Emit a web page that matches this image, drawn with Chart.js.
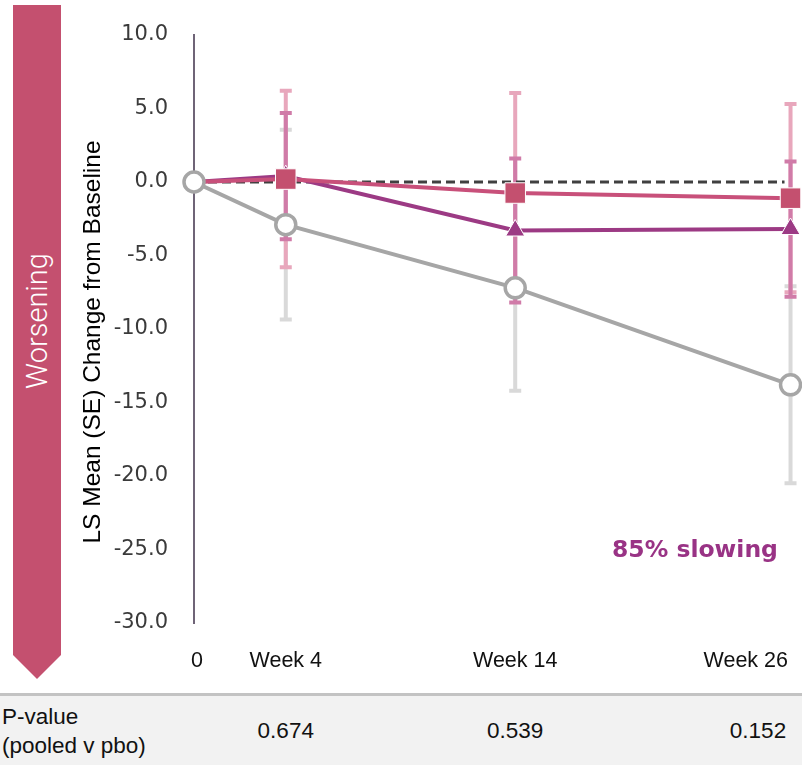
<!DOCTYPE html>
<html>
<head>
<meta charset="utf-8">
<script src="https://cdn.jsdelivr.net/npm/chart.js@4.4.0/dist/chart.umd.min.js"></script>
<style>
  body { margin: 0; background: #fff; }
  .wrap { position: relative; width: 802px; height: 765px; overflow: hidden; font-family: "Liberation Sans", Arial, sans-serif; }
  #chart { position: absolute; left: 0; top: 0; }
  .worse {
    position: absolute; left: 13px; top: 5px; width: 48px; height: 674px;
    background: #c4506f;
    clip-path: polygon(0 0, 100% 0, 100% 650px, 50% 100%, 0 650px);
  }
  .worse span {
    position: absolute; left: 24px; top: 316px;
    transform: translate(-50%, -50%) rotate(-90deg);
    color: #fff; font-family: Roboto, sans-serif; font-weight: 300; font-size: 29px; white-space: nowrap;
  }
  .slowing {
    position: absolute; left: 612px; top: 535px;
    color: #993385; font-family: "DejaVu Sans", sans-serif; font-weight: bold; font-size: 23.5px; white-space: nowrap;
  }
  .ptable {
    position: absolute; left: 0; top: 693px; width: 802px; height: 72px;
    border-top: 3px solid #c3c3c3; background: #f2f2f2;
    font-size: 22.5px; color: #111;
  }
  .ptable div { position: absolute; white-space: nowrap; }
</style>
</head>
<body>
<div class="wrap">
  <canvas id="chart" width="802" height="690"></canvas>
  <div class="worse"><span>Worsening</span></div>
  <div class="slowing">85% slowing</div>
  <div class="ptable" id="ptable"></div>
</div>
<script>
// weeks on the x axis
const weeks = [0, 4, 14, 26];
const weekLabels = ['0', 'Week 4', 'Week 14', 'Week 26'];

// LS mean change from baseline and SE
const placeboMean = [0, -2.9, -7.2, -13.8];
const placeboSE = [0, 6.45, 7.0, 6.7];
const doseAMean = [0, 0.2, -0.75, -1.1];
const doseASE = [0, 6.0, 6.8, 6.4];
const doseBMean = [0, 0.4, -3.3, -3.2];
const doseBSE = [0, 4.3, 4.9, 4.6];

const yTicks = [10, 5, 0, -5, -10, -15, -20, -25, -30];
const yTitle = 'LS Mean (SE) Change from Baseline';

// p-values shown under the chart (week 4, 14, 26)
const pWeeks = [4, 14, 26];
const pValues = ['0.674', '0.539', '0.152'];

const toPoints = (mean) => weeks.map((w, i) => ({ x: w, y: mean[i] }));

// error bars + dashed zero line, drawn under the lines
const errorBars = {
  id: 'errorBars',
  beforeDatasetsDraw(chart) {
    const ctx = chart.ctx;
    const xs = chart.scales.x, ys = chart.scales.y;
    const sets = [
      { mean: placeboMean, se: placeboSE, color: '#d9d9d9' },
      { mean: doseAMean, se: doseASE, color: '#e8a7bc' },
      { mean: doseBMean, se: doseBSE, color: '#d07ba8' }
    ];
    ctx.save();
    ctx.lineWidth = 4;
    sets.forEach(s => {
      ctx.strokeStyle = s.color;
      weeks.forEach((w, i) => {
        if (!s.se[i]) return;
        const x = xs.getPixelForValue(w);
        const top = ys.getPixelForValue(s.mean[i] + s.se[i]);
        const bot = ys.getPixelForValue(s.mean[i] - s.se[i]);
        ctx.beginPath();
        ctx.moveTo(x, top); ctx.lineTo(x, bot);
        ctx.moveTo(x - 6, top); ctx.lineTo(x + 6, top);
        ctx.moveTo(x - 6, bot); ctx.lineTo(x + 6, bot);
        ctx.stroke();
      });
    });
    // reference line at zero
    const y0 = ys.getPixelForValue(0);
    ctx.strokeStyle = '#404040';
    ctx.lineWidth = 3;
    ctx.setLineDash([9, 5]);
    ctx.beginPath();
    ctx.moveTo(xs.getPixelForValue(0), y0);
    ctx.lineTo(xs.getPixelForValue(26) - 6, y0);
    ctx.stroke();
    ctx.restore();
  },
  afterDraw(chart) {
    const ctx = chart.ctx;
    const xs = chart.scales.x;
    ctx.save();
    // x labels, last one kept inside the canvas
    ctx.font = '21.5px "Liberation Sans", Arial, sans-serif';
    ctx.fillStyle = '#111';
    ctx.textBaseline = 'middle';
    weeks.forEach((w, i) => {
      let x = xs.getPixelForValue(w);
      const tw = ctx.measureText(weekLabels[i]).width;
      if (x + tw / 2 > chart.width - 14) {
        ctx.textAlign = 'right';
        x = Math.min(x, chart.width - 14);
      } else {
        ctx.textAlign = 'center';
        if (i === 0) x += 3;
      }
      ctx.fillText(weekLabels[i], x, 661);
    });
    // y axis title
    ctx.translate(93, 342);
    ctx.rotate(-Math.PI / 2);
    ctx.textAlign = 'center';
    ctx.fillStyle = '#000';
    ctx.font = '24.5px "Liberation Sans", Arial, sans-serif';
    ctx.fillText(yTitle, 0, 0);
    ctx.restore();
  }
};

const ctx = document.getElementById('chart').getContext('2d');
const chart = new Chart(ctx, {
  type: 'line',
  data: {
    datasets: [
      {
        label: 'Placebo',
        data: toPoints(placeboMean),
        borderColor: '#a6a6a6',
        borderWidth: 4,
        pointStyle: 'circle',
        pointRadius: 10,
        pointBackgroundColor: '#fff',
        pointBorderColor: '#a6a6a6',
        pointBorderWidth: 3.5,
        order: 0
      },
      {
        label: 'Dose A',
        data: toPoints(doseAMean),
        borderColor: '#c8507a',
        borderWidth: 4,
        pointStyle: 'rect',
        pointRadius: c => c.dataIndex === 0 ? 0 : 14.5,
        pointBackgroundColor: '#c4506f',
        pointBorderColor: '#fff',
        pointBorderWidth: 1,
        order: 1
      },
      {
        label: 'Dose B',
        data: toPoints(doseBMean),
        borderColor: '#9c3a84',
        borderWidth: 4,
        pointStyle: 'triangle',
        pointRadius: c => c.dataIndex === 0 ? 0 : 11,
        pointBackgroundColor: '#9c3a84',
        pointBorderColor: '#fff',
        pointBorderWidth: 1,
        order: 2
      }
    ]
  },
  options: {
    responsive: false,
    animation: false,
    clip: false,
    layout: { autoPadding: false, padding: { top: 35, left: 0, right: 0, bottom: 0 } },
    plugins: {
      legend: { display: false },
      tooltip: { enabled: false }
    },
    scales: {
      x: {
        type: 'linear',
        min: 0,
        max: 26.5,
        grid: { display: false },
        border: { display: false },
        ticks: { display: false },
        afterFit: s => { s.height = 67; s.paddingLeft = 0; s.paddingRight = 0; }
      },
      y: {
        min: -30,
        max: 10,
        afterBuildTicks: s => { s.ticks = yTicks.map(v => ({ value: v })); },
        afterFit: s => { s.width = 194; s.paddingTop = 0; s.paddingBottom = 0; },
        grid: { display: false, drawTicks: false },
        border: { display: true, color: '#6f6477', width: 2 },
        ticks: {
          padding: 26,
          color: '#3a3a3a',
          font: { family: '"DejaVu Sans", sans-serif', size: 21 },
          callback: v => v.toFixed(1)
        },
        title: { display: false }
      }
    }
  },
  plugins: [errorBars]
});

// p-value row, centred under the week positions
const ptable = document.getElementById('ptable');
ptable.innerHTML = '<div style="left:2px;top:8px">P-value</div>' +
  '<div style="left:2px;top:37px">(pooled v pbo)</div>';
pWeeks.forEach((w, i) => {
  const x = Math.min(chart.scales.x.getPixelForValue(w), 758);
  const d = document.createElement('div');
  d.textContent = pValues[i];
  d.style.left = x + 'px';
  d.style.top = '22px';
  d.style.transform = 'translateX(-50%)';
  ptable.appendChild(d);
});
</script>
</body>
</html>
